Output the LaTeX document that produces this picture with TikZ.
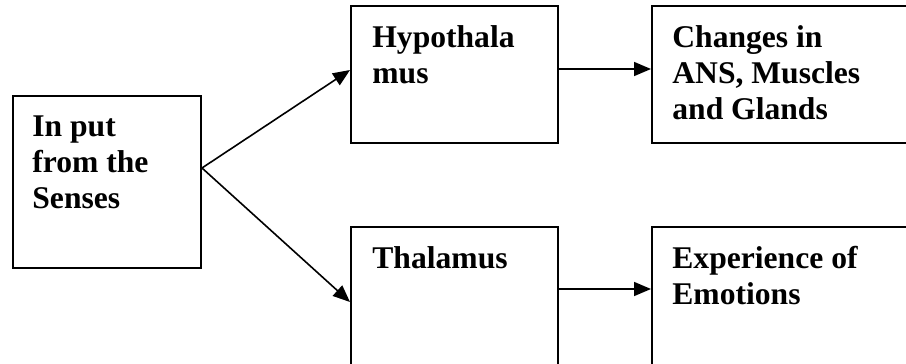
\documentclass[tikz,border=0pt]{standalone}
\usepackage{fontspec}
\setmainfont{Liberation Serif}
\usetikzlibrary{positioning,arrows.meta}

\tikzset{
    box/.style={draw, line width=1pt, rectangle, inner sep=0pt},
    boxtext/.style={align=left, inner sep=0pt, font=\fontsize{15.8}{18}\selectfont\bfseries},
    link/.style={line width=0.8pt, -{Triangle[length=8.5pt,width=7pt]}}
}

\begin{document}
\begin{tikzpicture}[x=0.5pt,y=-0.5pt]
    \useasboundingbox (0,0) rectangle (906,364);
    \clip (0,0) rectangle (906,364);

    % Boxes
    \node[box, minimum width=94pt, minimum height=86pt] (input) at (107,182) {};
    \node[box, minimum width=103.5pt, minimum height=68.5pt] (hypo) at (454.5,74.5) {};
    \node[box, minimum width=134pt, minimum height=68.5pt] (ans) at (786,74.5) {};
    \node[box, minimum width=103.5pt, minimum height=71.5pt] (thal) at (454.5,298.5) {};
    \node[box, minimum width=134pt, minimum height=71.5pt] (emo) at (786,298.5) {};

    % Texts
    \node[boxtext, below right=10pt and 10pt of input.north west] (inputtext) {In put\\from the\\Senses};
    \node[boxtext, below right=10pt and 11pt of hypo.north west] (hypotext) {Hypothala\\mus};
    \node[boxtext, below right=10pt and 10.5pt of ans.north west] (anstext) {Changes in\\ANS, Muscles\\and Glands};
    \node[boxtext, below right=10pt and 11pt of thal.north west] (thaltext) {Thalamus};
    \node[boxtext, below right=10pt and 10.5pt of emo.north west] (emotext) {Experience of\\Emotions};

    % Arrows
    \foreach \to/\dy in {hypo/2.25pt, thal/-1.75pt} {
        \draw[link] ([yshift=7pt]input.east) -- ([yshift=\dy]\to.west);
    }
    \draw[link] ([yshift=2.75pt]hypo.east) -- ([yshift=2.75pt]ans.west);
    \draw[link] ([yshift=4.75pt]thal.east) -- ([yshift=4.75pt]emo.west);
\end{tikzpicture}
\end{document}
